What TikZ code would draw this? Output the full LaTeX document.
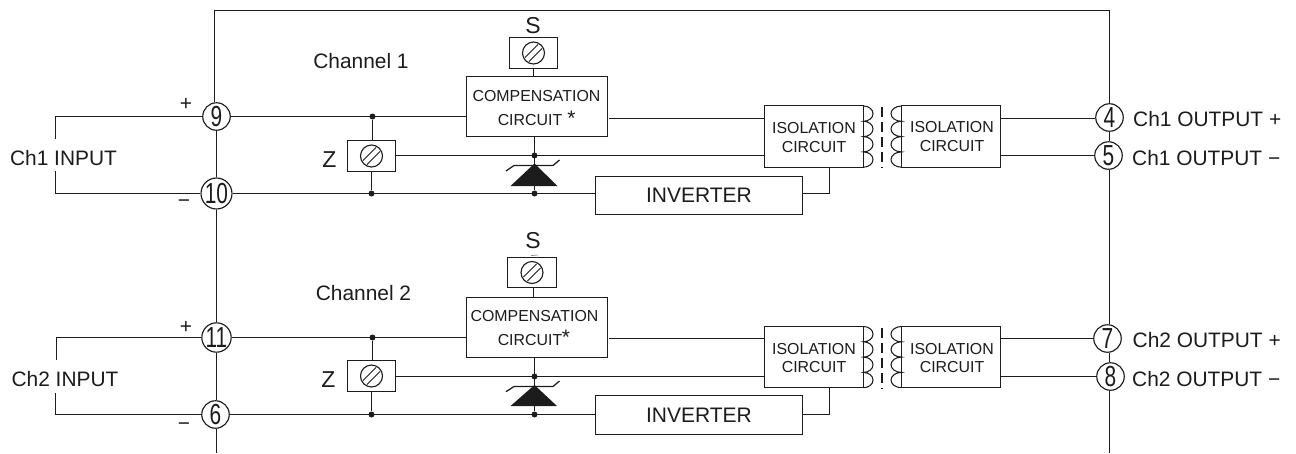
\documentclass[tikz,border=0pt]{standalone}
\usepackage{fontspec}
\setmainfont{Liberation Sans}
\usetikzlibrary{calc}
\definecolor{ink}{HTML}{1C1C1C}
\newcommand{\lbl}[1]{\fontsize{#1}{#1}\selectfont}
\tikzset{
  wire/.style={draw=ink,line width=1.25pt},
  cbox/.style={draw=ink,line width=1.25pt,fill=white,inner sep=0pt,text=ink,align=center},
  isobox/.style={cbox,font=\lbl{15.9},minimum width=99pt,text depth=0pt},
  isotext/.style={font=\lbl{15.9},text=ink,align=center,inner sep=0pt},
  small/.style={font=\lbl{15.9},text=ink,align=center,inner sep=0pt},
  big/.style={font=\lbl{20.9},text=ink,inner sep=0pt},
  term/.style={circle,draw=ink,line width=1.15pt,fill=white,inner sep=0pt,minimum size=27.5pt,text=ink,font=\lbl{29}},
  dot/.style={circle,fill=ink,inner sep=0pt,minimum size=6pt},
  screw/.style={cbox,minimum width=48pt,minimum height=31pt,
    path picture={
      \coordinate (sc) at (path picture bounding box.center);
      \draw[ink,line width=1.1pt] (sc) circle (11pt);
      \draw[ink,line width=1pt] ($(sc)+(-8.6,4.6)$) -- ($(sc)+(4.6,-8.6)$);
      \draw[ink,line width=1pt] ($(sc)+(-4.6,8.6)$) -- ($(sc)+(8.6,-4.6)$);
    }},
  coil/.style={draw=ink,line width=1.05pt},
  sep/.style={draw=ink,line width=1.5pt,dash pattern=on 10pt off 5pt},
}
\newcommand{\digit}[1]{\scalebox{0.72}[1]{#1}}
\newcommand{\coilR}[2]{% x, top y : bumps to the right
  \draw[coil] (#1,#2) arc[start angle=-90,end angle=90,x radius=9.5,y radius=7.65]
     arc[start angle=-90,end angle=90,x radius=9.5,y radius=7.65]
     arc[start angle=-90,end angle=90,x radius=9.5,y radius=7.65]
     arc[start angle=-90,end angle=90,x radius=9.5,y radius=7.65];}
\newcommand{\coilL}[2]{% x, top y : bumps to the left
  \draw[coil] (#1,#2) arc[start angle=-90,end angle=-270,x radius=10.5,y radius=7.65]
     arc[start angle=-90,end angle=-270,x radius=10.5,y radius=7.65]
     arc[start angle=-90,end angle=-270,x radius=10.5,y radius=7.65]
     arc[start angle=-90,end angle=-270,x radius=10.5,y radius=7.65];}
\begin{document}
\begin{tikzpicture}[x=1pt,y=-1pt]
\useasboundingbox (0,0) rectangle (1296,453);
% terminals
\node[term] (t9) at (216.5,116.5) {\digit{9}};
\node[term] (t10) at (216.5,193.5) {\digit{10}};
\node[term] (t11) at (216.5,337.5) {\digit{11}};
\node[term] (t6) at (215.5,414.5) {\digit{6}};
\node[term] (t4) at (1109.5,117.5) {\digit{4}};
\node[term] (t5) at (1108.5,155.5) {\digit{5}};
\node[term] (t7) at (1107.5,338.5) {\digit{7}};
\node[term] (t8) at (1110.5,376.5) {\digit{8}};
% corners and free ends
\coordinate (tl) at (214.5,10.5);
\coordinate (tr) at (1109.5,10.5);
\coordinate (bl) at (216.5,453);
\coordinate (br) at (1109.5,453);
\draw[wire] (t9.north -| tl) -- (tl) -- (tr) -- (t4.north -| tr);
\draw[wire] (t9.south -| bl) -- (t10.north -| bl);
\draw[wire] (t10.south -| bl) -- (t11.north -| bl);
\draw[wire] (t11.south -| bl) -- (t6.north -| bl);
\draw[wire] (t6.south -| bl) -- (bl);
\draw[wire] (t4.south -| br) -- (t5.north -| br);
\draw[wire] (t5.south -| br) -- (t7.north -| br);
\draw[wire] (t7.south -| br) -- (t8.north -| br);
\draw[wire] (t8.south -| br) -- (br);
% ---------- channel 1
\node[cbox,minimum width=141pt,minimum height=60pt] (comp1) at (537,106.5) {};
\node[small,anchor=center] (comp1a) at (536.5,96.5) {COMPENSATION};
\node[small] (comp1b) at (530,120.5) {CIRCUIT};
\node[font=\lbl{21},text=ink,inner sep=0pt] (star1) at (571.5,118) {*};
\node[screw] (s1) at (533.5,53) {};
\node[big,font=\lbl{23}] (slab1) at (533,25.5) {S};
\node[screw] (z1) at (371.5,156) {};
\node[big,font=\lbl{23}] (zlab1) at (329.5,160) {Z};
\node[isobox,minimum height=62pt] (isoa1) at (814,136.5) {};
\node[isotext] (isoa1t) at (814,137.5) {ISOLATION\\[2.5pt]CIRCUIT};
\node[isobox,minimum height=62pt] (isob1) at (951,136.5) {};
\node[isotext] (isob1t) at (952,136.5) {ISOLATION\\[2.5pt]CIRCUIT};
\node[cbox,font=\lbl{21},minimum width=207pt,minimum height=38pt] (inv1) at (699,195.5) {INVERTER};
\node[big] (ch1) at (361,61.5) {Channel 1};
\node[big] (in1) at (63.5,158.5) {Ch1 INPUT};
\node[big,anchor=west] (o1p) at (1133,119) {Ch1 OUTPUT +};
\node[big,anchor=west] (o1m) at (1132,158) {Ch1 OUTPUT −};
\node[big] (p1) at (186,104) {+};
\node[big] (m1) at (184,204) {−};
\coordinate (ic1a) at (55.5,116.5);
\coordinate (ic1b) at (55.5,139);
\coordinate (ic1c) at (55.5,171);
\coordinate (ic1d) at (55.5,193.5);
\draw[wire] (t9) -- (ic1a) -- (ic1b);
\draw[wire] (ic1c) -- (ic1d) -- (t10);
\node[dot] (j1a) at (372.5,116.5) {};
\node[dot] (j1b) at (371.5,193.5) {};
\node[dot] (j1c) at (534.5,155.5) {};
\node[dot] (j1d) at (534.5,193.5) {};
\draw[wire] (t9) -- (t9 -| comp1.west);
\draw[wire] (t10) -- (t10 -| inv1.west);
\draw[wire] (j1a) -- (j1a |- z1.north);
\draw[wire] (j1b) -- (j1b |- z1.south);
\draw[wire] (z1.east |- j1c) -- (j1c -| isoa1.west);
\draw[wire] (s1.south) -- (s1.south |- comp1.north);
\draw[wire] (j1d) -- (j1d |- comp1.south);
\coordinate (c1r) at (609,118.5);
\draw[wire] (c1r) -- (c1r -| isoa1.west);
\draw[wire] (inv1.east |- j1d) -- (829.5,193.5) -- (829.5,167.5);
\draw[wire] (isob1.east |- 0,118.5) -- (t4.west |- 0,118.5);
\draw[wire] (isob1.east |- t5) -- (t5);
\fill[ink] (534.5,163.5) -- (557.5,186) -- (510.5,186) -- cycle;
\draw[wire] (506,171) -- (514,165.5) -- (553,165.5) -- (559.5,160);
\coilR{863.5}{106}
\coilL{901.5}{106}
\draw[sep] (882,107) -- (882,168);
% ---------- channel 2
\node[cbox,minimum width=141pt,minimum height=60pt] (comp2) at (537,327.5) {};
\node[small] (comp2a) at (534.5,316) {COMPENSATION};
\node[small] (comp2b) at (530,340.5) {CIRCUIT};
\node[font=\lbl{21},text=ink,inner sep=0pt] (star2) at (566,337.5) {*};
\node[screw,minimum width=49pt,minimum height=30pt] (s2) at (532,272.5) {};
\node[big,font=\lbl{23}] (slab2) at (533,241) {S};
\node[screw] (z2) at (371.5,376) {};
\node[big,font=\lbl{23}] (zlab2) at (328.5,380) {Z};
\node[isobox,minimum height=61pt] (isoa2) at (814,357) {};
\node[isotext] (isoa2t) at (814,358) {ISOLATION\\[2.5pt]CIRCUIT};
\node[isobox,minimum height=61pt] (isob2) at (951,357) {};
\node[isotext] (isob2t) at (952,358) {ISOLATION\\[2.5pt]CIRCUIT};
\node[cbox,font=\lbl{21},minimum width=207pt,minimum height=39pt] (inv2) at (699,415) {INVERTER};
\node[big] (ch2) at (363.5,293.5) {Channel 2};
\node[big] (in2) at (65,379) {Ch2 INPUT};
\node[big,anchor=west] (o2p) at (1132.5,340) {Ch2 OUTPUT +};
\node[big,anchor=west] (o2m) at (1132,379) {Ch2 OUTPUT −};
\node[big] (p2) at (186,327) {+};
\node[big] (m2) at (184,427) {−};
\coordinate (ic2a) at (56.5,337.5);
\coordinate (ic2b) at (56.5,360);
\coordinate (ic2c) at (55.5,393);
\coordinate (ic2d) at (55.5,414.5);
\draw[wire] (t11) -- (ic2a) -- (ic2b);
\draw[wire] (ic2c) -- (ic2d) -- (t6);
\node[dot] (j2a) at (372.5,337.5) {};
\node[dot] (j2b) at (371.5,414.5) {};
\node[dot] (j2c) at (534.5,376.5) {};
\node[dot] (j2d) at (534.5,414.5) {};
\draw[wire] (t11) -- (t11 -| comp2.west);
\draw[wire] (t6) -- (t6 -| inv2.west);
\draw[wire] (j2a) -- (j2a |- z2.north);
\draw[wire] (j2b) -- (j2b |- z2.south);
\draw[wire] (z2.east |- j2c) -- (j2c -| isoa2.west);
\coordinate (s2c) at (533.5,287.5);
\draw[wire] (s2c) -- (s2c |- comp2.north);
\draw[wire] (j2d) -- (j2d |- comp2.south);
\coordinate (c2r) at (609,338.5);
\draw[wire] (c2r) -- (c2r -| isoa2.west);
\draw[wire] (inv2.east |- j2d) -- (829.5,414.5) -- (829.5,387.5);
\draw[wire] (isob2.east |- t7) -- (t7);
\draw[wire] (isob2.east |- t8) -- (t8);
\fill[ink] (534.5,385) -- (557,406) -- (510.5,406) -- cycle;
\draw[wire] (506,391.7) -- (514,386.5) -- (553,386.5) -- (559.5,381);
\coilR{863.5}{326.5}
\coilL{901.5}{326.5}
\draw[sep] (882,328) -- (882,389);
\draw[ink!60,line width=.6pt] (531,255.6) .. controls (533,254) and (535,256.6) .. (538,255);
\end{tikzpicture}
\end{document}
